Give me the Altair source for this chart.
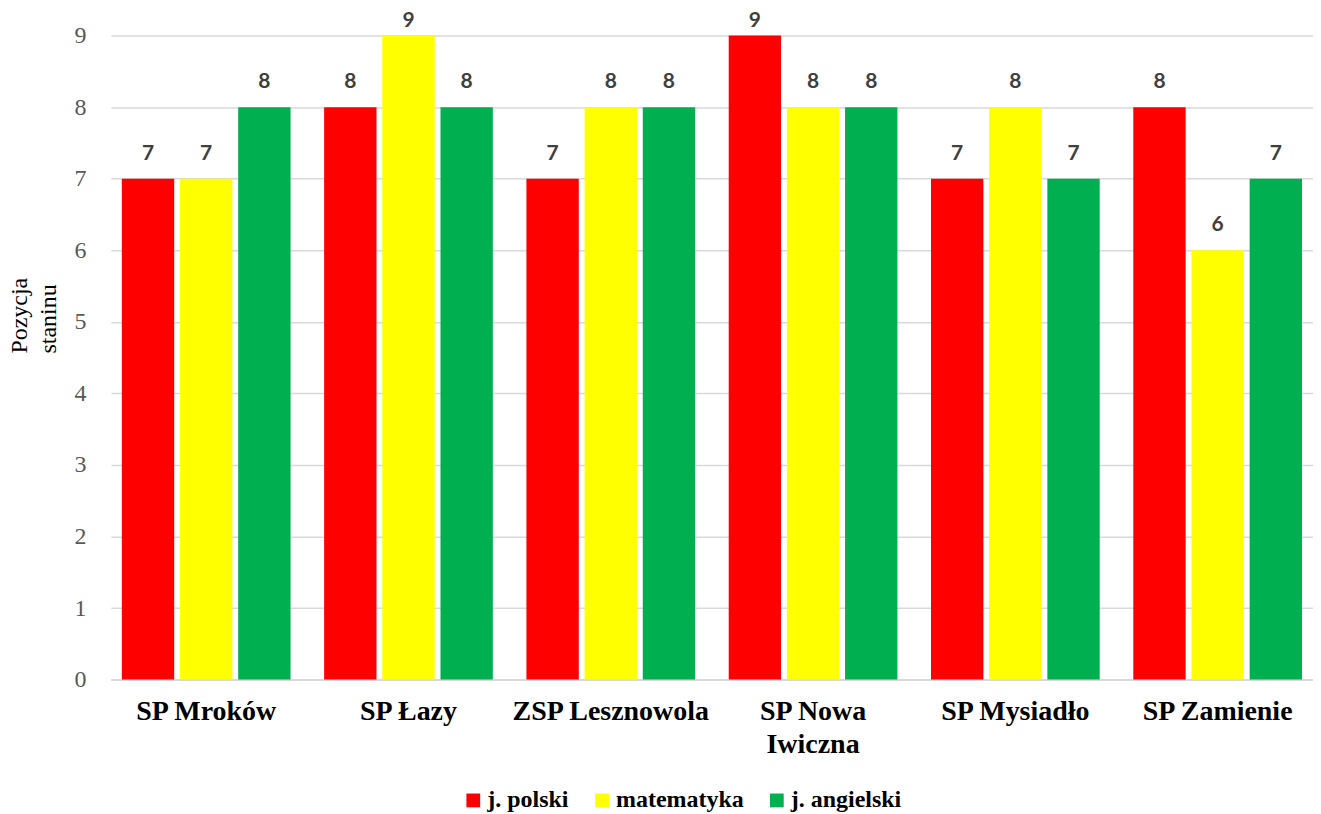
import altair as alt
import pandas as pd

schools = ["SP Mroków", "SP Łazy", "ZSP Lesznowola", "SP Nowa Iwiczna", "SP Mysiadło", "SP Zamienie"]
subjects = ["j. polski", "matematyka", "j. angielski"]
colors = ["#FF0000", "#FFFF00", "#00B050"]
polski = [7, 8, 7, 9, 7, 8]
matematyka = [7, 9, 8, 8, 8, 6]
angielski = [8, 8, 8, 8, 7, 7]

rows = []
for i, s in enumerate(schools):
    for subj, vals in zip(subjects, [polski, matematyka, angielski]):
        rows.append({"szkola": s, "przedmiot": subj, "wartosc": vals[i]})
df = pd.DataFrame(rows)

x = alt.X("szkola:N", sort=schools, title=None,
          scale=alt.Scale(paddingInner=0.166, paddingOuter=0.0544),
          axis=alt.Axis(labelAngle=0, labelFont="Liberation Serif", labelFontWeight="bold",
                        labelFontSize=28, labelColor="#000000", labelPadding=18, labelLimit=400,
                        labelLineHeight=33, ticks=False, domainColor="#d9d9d9", domainWidth=2,
                        labelExpr="datum.label == 'SP Nowa Iwiczna' ? ['SP Nowa', 'Iwiczna'] : datum.label"))
xo = alt.XOffset("przedmiot:N", sort=subjects, scale=alt.Scale(paddingInner=0.1))
yscale = alt.Scale(domain=[0, 9])
y = alt.Y("wartosc:Q", scale=yscale,
          axis=alt.Axis(values=list(range(10)), tickCount=10, labelFont="Liberation Serif",
                        labelFontSize=24, labelColor="#595959", labelPadding=25, ticks=False,
                        domain=False, gridColor="#d9d9d9", gridWidth=1.5,
                        title=["Pozycja", "staninu"], titleFont="Liberation Serif",
                        titleFontWeight="normal", titleFontSize=24, titleColor="#000000",
                        titleAngle=270, titleAlign="left", titleBaseline="top",
                        titleX=-103, titleY=318, titleLineHeight=29))
color = alt.Color("przedmiot:N", sort=subjects,
                  scale=alt.Scale(domain=subjects, range=colors),
                  legend=alt.Legend(title=None, orient="none", direction="horizontal",
                                    legendX=351, legendY=754, symbolType="square",
                                    symbolSize=190, symbolStrokeWidth=0,
                                    labelFont="Liberation Serif", labelFontWeight="bold",
                                    labelFontSize=24, labelColor="#000000", labelOffset=2,
                                    columnPadding=21, symbolOpacity=1))

bars = alt.Chart(df).mark_bar().encode(x=x, xOffset=xo, y=y, color=color)
labels = alt.Chart(df).transform_calculate(
    pos="min(datum.wartosc + 0.35, 9.21)"
).mark_text(font="Lato", fontWeight="bold", fontSize=21, color="#404040",
            baseline="middle").encode(
    x=x, xOffset=xo, y=alt.Y("pos:Q", scale=yscale), text="wartosc:Q")

chart = (bars + labels).properties(
    width=1204, height=645,
    autosize=alt.AutoSizeParams(type="none"),
    padding={"left": 103, "top": 27, "right": 0, "bottom": 132},
).configure_view(stroke=None)

chart.save("out.html", embed_options={"renderer": "svg", "actions": False})
